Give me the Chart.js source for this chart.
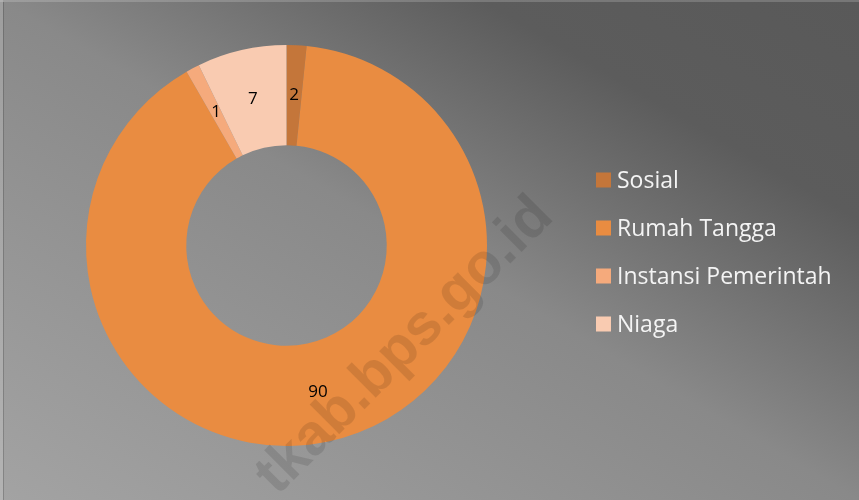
<!DOCTYPE html>
<html>
<head>
<meta charset="utf-8">
<script src="https://cdn.jsdelivr.net/npm/chart.js@4.4.0/dist/chart.umd.min.js"></script>
<style>
  html, body { margin: 0; padding: 0; background: #fff; }
  #wrap { position: relative; width: 859px; height: 500px; }
  canvas { display: block; }
</style>
</head>
<body>
<div id="wrap"><canvas id="c" width="859" height="500"></canvas></div>
<script>
// ---- data ----
const categories = ['Sosial', 'Rumah Tangga', 'Instansi Pemerintah', 'Niaga'];
const shares = [1.6, 90.1, 1.1, 7.2];
const sliceColors = ['#C4763A', '#E98C41', '#F5AA7C', '#F9CBB1'];
const watermarkText = 'tkab.bps.go.id';

// ---- background plugin ----
const bgPlugin = {
  id: 'bg',
  beforeDraw(chart) {
    const ctx = chart.ctx, w = chart.width, h = chart.height;
    ctx.save();
    const g = ctx.createLinearGradient(212, 624, 647, -124);
    g.addColorStop(0, '#a3a3a3');
    g.addColorStop(0.5, '#898989');
    g.addColorStop(0.78, '#5c5c5c');
    g.addColorStop(1, '#595959');
    ctx.fillStyle = g;
    ctx.fillRect(0, 0, w, h);
    // frame lines
    ctx.fillStyle = 'rgba(255,255,255,0.18)';
    ctx.fillRect(0, 0, w, 2);
    ctx.fillRect(0, 0, 3, h);
    ctx.fillStyle = 'rgba(0,0,0,0.18)';
    ctx.fillRect(3, 2, 1, h - 2);
    ctx.restore();
  }
};

// ---- labels + legend + watermark ----
const overlayPlugin = {
  id: 'overlay',
  afterDatasetsDraw(chart) {
    const ctx = chart.ctx;
    const meta = chart.getDatasetMeta(0);
    ctx.save();
    ctx.fillStyle = '#000';
    ctx.font = '17px "Open Sans", sans-serif';
    ctx.textAlign = 'center';
    ctx.textBaseline = 'middle';
    meta.data.forEach((arc, i) => {
      const p = arc.getCenterPoint();
      ctx.fillText(String(Math.round(chart.data.datasets[0].data[i])), p.x, p.y);
    });
    ctx.restore();
  },
  afterDraw(chart) {
    const ctx = chart.ctx;
    // legend
    ctx.save();
    ctx.font = '23px "Open Sans", sans-serif';
    ctx.textBaseline = 'middle';
    ctx.textAlign = 'left';
    chart.data.labels.forEach((lab, i) => {
      const cy = 180 + i * 48;
      ctx.fillStyle = chart.data.datasets[0].backgroundColor[i];
      ctx.fillRect(596, cy - 7.5, 15, 15);
      ctx.fillStyle = '#f4f4f4';
      ctx.fillText(lab, 617, cy + 1);
    });
    ctx.restore();
    // watermark
    ctx.save();
    ctx.translate(405, 346);
    ctx.rotate(-Math.PI / 4);
    ctx.font = 'bold 58px "Liberation Sans", Arial, sans-serif';
    ctx.textAlign = 'center';
    ctx.textBaseline = 'middle';
    ctx.fillStyle = 'rgba(0,0,0,0.11)';
    ctx.fillText(watermarkText, 0, 0);
    ctx.restore();
  }
};

new Chart(document.getElementById('c'), {
  type: 'doughnut',
  data: {
    labels: categories,
    datasets: [{
      data: shares,
      backgroundColor: sliceColors,
      borderWidth: 0
    }]
  },
  options: {
    responsive: false,
    animation: false,
    cutout: '50%',
    rotation: 0,
    layout: { padding: { left: 86, right: 372, top: 45, bottom: 54 } },
    plugins: {
      legend: { display: false },
      tooltip: { enabled: false }
    }
  },
  plugins: [bgPlugin, overlayPlugin]
});
</script>
</body>
</html>
